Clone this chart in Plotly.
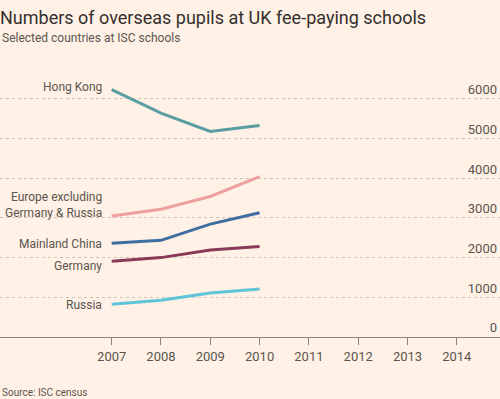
import plotly.graph_objects as go

years = [2007, 2008, 2009, 2010]
hong_kong = [6230, 5640, 5180, 5330]
europe_ex = [3050, 3220, 3540, 4040]
mainland_china = [2365, 2435, 2845, 3130]
germany = [1910, 2000, 2190, 2280]
russia = [825, 925, 1110, 1210]

series = [
    ("Hong Kong", hong_kong, "#5a9ea4", 3),
    ("Europe excluding<br>Germany & Russia", europe_ex, "#eea0a0", 11),
    ("Mainland China", mainland_china, "#3e6fa2", -1),
    ("Germany", germany, "#8a3a59", -5),
    ("Russia", russia, "#5ec4da", -1),
]

FONT = "Roboto"
TXT = "#5b5550"

fig = go.Figure()
for name, vals, color, ysh in series:
    fig.add_trace(go.Scatter(x=years, y=vals, mode="lines", name=name,
                             line=dict(color=color, width=3), showlegend=False,
                             hoverinfo="skip"))
    fig.add_annotation(x=years[0], y=vals[0], xref="x", yref="y", text=name,
                       showarrow=False, xanchor="right", yanchor="middle",
                       align="right", xshift=-8, yshift=ysh,
                       font=dict(family=FONT, size=12, color=TXT))

fig.update_layout(
    width=500, height=399,
    paper_bgcolor="#fff1e5", plot_bgcolor="#fff1e5",
    margin=dict(l=0, r=0, t=79, b=62),
    title=dict(text="Numbers of overseas pupils at UK fee-paying schools",
               x=0, xanchor="left", y=1 - 18 / 399, yanchor="middle",
               font=dict(family=FONT, size=18, color="#33302e")),
)
fig.add_annotation(text="Selected countries at ISC schools", xref="paper", yref="paper",
                   x=0, y=1 + (79 - 38) / 258, xanchor="left", yanchor="middle",
                   showarrow=False, font=dict(family=FONT, size=12, color=TXT))
fig.add_annotation(text="Source: ISC census", xref="paper", yref="paper",
                   x=0, y=-(392 - 337) / 258, xanchor="left", yanchor="middle",
                   showarrow=False, font=dict(family=FONT, size=10, color=TXT))

fig.update_xaxes(range=[2004.735, 2014.876], tickvals=list(range(2007, 2015)),
                 showgrid=False, zeroline=False, showline=True, linecolor="#8a827b",
                 linewidth=1, ticks="outside", ticklen=7, tickcolor="#8a827b",
                 tickfont=dict(family=FONT, size=13, color=TXT))
fig.update_yaxes(range=[0, 6500], tickvals=[0, 1000, 2000, 3000, 4000, 5000, 6000],
                 side="right", ticklabelposition="inside top", showgrid=True,
                 gridcolor="#cdc3b9", griddash="dot", gridwidth=1, zeroline=False,
                 showline=False, ticks="",
                 tickfont=dict(family=FONT, size=13, color=TXT))

fig.write_html("out.html", config={"displayModeBar": False},
               post_script="document.body.style.margin='0';")
